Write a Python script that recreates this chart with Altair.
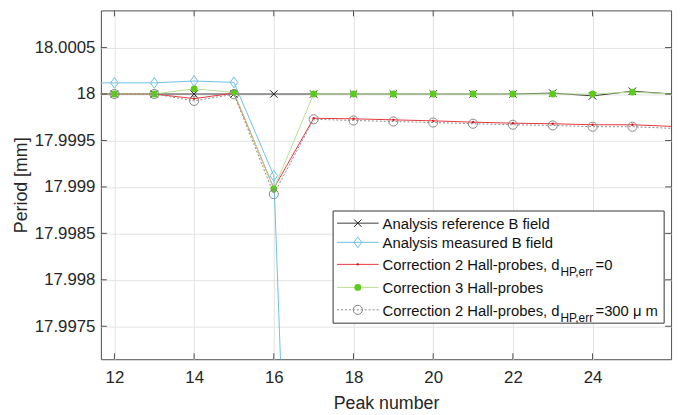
import altair as alt
import pandas as pd

# ---------------- data ----------------
peaks = list(range(11, 27))
ref_field = [18.0, 18.0, 18.0, 18.0, 18.0, 18.0, 18.0, 18.0, 18.0, 18.0, 18.0, 18.0,
             18.00001, 17.99998, 18.00003, 18.0]
meas_field = [18.00012, 18.00012, 18.00012, 18.00014, 18.000125, 17.99912, 17.98728,
              None, None, None, None, None, None, None, None, None]
corr2_d0 = [18.0, 18.0, 18.0, 17.99995, 18.00001, 17.998985, 17.999739, 17.999733,
            17.999722, 17.999711, 17.999697, 17.999686, 17.99968, 17.999669, 17.999669, 17.999651]
corr3 = [18.0, 18.0, 18.0, 18.000056, 18.000018, 17.998978, 18.0, 18.0, 18.0, 18.0,
         18.0, 18.0, 18.0, 18.0, 18.000021, 18.0]
corr2_d300 = [18.0, 18.0, 18.0, 17.999926, 17.999997, 17.998922, 17.999728, 17.999715,
              17.999704, 17.999693, 17.99968, 17.999669, 17.999662, 17.999648, 17.999648, 17.99963]

x_ticks = [12, 14, 16, 18, 20, 22, 24]
y_ticks = [17.9975, 17.998, 17.9985, 17.999, 17.9995, 18.0, 18.0005]

legend_main = ["Analysis reference B field", "Analysis measured B field",
               "Correction 2 Hall-probes, d", "Correction 3 Hall-probes",
               "Correction 2 Hall-probes, d"]
legend_sub = ["", "", "HP,err", "", "HP,err"]
legend_tail = ["", "", "=0", "", "=300 \u03bc m"]

# ---------------- styling ----------------
FONT = "Liberation Sans"
TXT = "#262626"
W, H = 577, 353

series = [
    dict(vals=ref_field, line="#3a3a3a", dash=None, shape="M-1,-1L1,1M-1,1L1,-1",
         filled=False, mcolor="#1a1a1a", size=56, sw=1),
    dict(vals=meas_field, line="#6cc0e6", dash=None, shape="M0,-1L0.7,0L0,1L-0.7,0Z",
         filled=False, mcolor="#6cc0e6", size=121, sw=1),
    dict(vals=corr2_d0, line="#e8353a", dash=None, shape="circle",
         filled=True, mcolor="#e0141e", size=6, sw=1),
    dict(vals=corr3, line="#b4e08e", dash=None, shape="circle",
         filled=True, mcolor="#5ccb1c", size=48, sw=1),
    dict(vals=corr2_d300, line="#8a8a8a", dash=[2, 2], shape="circle",
         filled=False, mcolor="#858585", size=85, sw=1),
]

xscale = alt.Scale(domain=[11.66, 25.97], nice=False, zero=False)
yscale = alt.Scale(domain=[17.997145, 18.0009], nice=False, zero=False)

xaxis = alt.Axis(values=x_ticks, format="d", grid=True, gridColor="#e3e3e3",
                 ticks=False, tickSize=0, domain=False, labelFont=FONT,
                 labelFontSize=17, labelColor=TXT, labelPadding=11,
                 titleFont=FONT, titleFontSize=18, titleFontWeight="normal",
                 titleColor=TXT, titleBaseline="alphabetic", titleY=50,
                 labelFlush=False)
yaxis = alt.Axis(values=y_ticks, format=".6~g", grid=True, gridColor="#e3e3e3",
                 ticks=False, tickSize=0, domain=False, labelFont=FONT,
                 labelFontSize=17, labelColor=TXT, labelPadding=6,
                 titleFont=FONT, titleFontSize=18, titleFontWeight="normal",
                 titleColor=TXT, titleBaseline="alphabetic", titleX=-75,
                 titleY=W * 0 + H / 2, titleAngle=270, labelFlush=False)

X = alt.X("peak:Q", scale=xscale, axis=xaxis, title="Peak number")
Y = alt.Y("value:Q", scale=yscale, axis=yaxis, title="Period [mm]")

layers = []
for s in series:
    df = pd.DataFrame({"peak": peaks, "value": s["vals"]}).dropna()
    lkw = dict(color=s["line"], strokeWidth=s["sw"], clip=True)
    if s["dash"]:
        lkw["strokeDash"] = s["dash"]
    layers.append(alt.Chart(df).mark_line(**lkw).encode(x=X, y=Y))
    pkw = dict(shape=s["shape"], size=s["size"], clip=True, opacity=1)
    if s["filled"]:
        pkw.update(filled=True, fill=s["mcolor"], strokeWidth=0)
    else:
        pkw.update(filled=False, stroke=s["mcolor"], strokeWidth=1)
    layers.append(
        alt.Chart(df).mark_point(**pkw)
        .transform_filter("datum.peak >= 12 && datum.peak <= 25")
        .encode(x=X, y=Y)
    )

# inward ticks on all four sides
xt = pd.DataFrame({"peak": x_ticks})
yt = pd.DataFrame({"value": y_ticks})
TC = "#4d4d4d"
layers.append(alt.Chart(xt).mark_rule(color=TC).encode(x=X, y=alt.value(H), y2=alt.value(H - 6)))
layers.append(alt.Chart(xt).mark_rule(color=TC).encode(x=X, y=alt.value(0), y2=alt.value(6)))
layers.append(alt.Chart(yt).mark_rule(color=TC).encode(y=Y, x=alt.value(0), x2=alt.value(6)))
layers.append(alt.Chart(yt).mark_rule(color=TC).encode(y=Y, x=alt.value(W), x2=alt.value(W - 6)))

# legend
one = pd.DataFrame({"k": [0]})
layers.append(alt.Chart(one).mark_rect(fill="white", stroke="#333333", strokeWidth=1).encode(
    x=alt.value(235), x2=alt.value(570), y=alt.value(203), y2=alt.value(316.5)))
row_line = [215.3, 234.7, 257, 280.3, 303]
row_base = [221.3, 240.7, 263, 286.3, 309]
for i, s in enumerate(series):
    rkw = dict(color=s["line"], strokeWidth=1)
    if s["dash"]:
        rkw["strokeDash"] = s["dash"]
    layers.append(alt.Chart(one).mark_rule(**rkw).encode(
        x=alt.value(239), x2=alt.value(281), y=alt.value(row_line[i])))
    pkw = dict(shape=s["shape"], size=s["size"], opacity=1)
    if s["filled"]:
        pkw.update(filled=True, fill=s["mcolor"], strokeWidth=0)
    else:
        pkw.update(filled=False, stroke=s["mcolor"], strokeWidth=1)
    layers.append(alt.Chart(one).mark_point(**pkw).encode(
        x=alt.value(260), y=alt.value(row_line[i])))
    layers.append(alt.Chart(one).mark_text(
        text=legend_main[i], align="left", baseline="alphabetic", font=FONT,
        fontSize=15, color="#111111").encode(x=alt.value(285), y=alt.value(row_base[i])))
    if legend_sub[i]:
        layers.append(alt.Chart(one).mark_text(
            text=legend_sub[i], align="left", baseline="alphabetic", font=FONT,
            fontSize=12, color="#111111").encode(x=alt.value(465), y=alt.value(row_base[i] + 6)))
        layers.append(alt.Chart(one).mark_text(
            text=legend_tail[i], align="left", baseline="alphabetic", font=FONT,
            fontSize=15, color="#111111").encode(x=alt.value(500.5), y=alt.value(row_base[i])))

chart = alt.layer(*layers).properties(
    width=W, height=H,
    autosize=alt.AutoSizeParams(type="none"),
    padding={"left": 94, "top": 0, "right": 6, "bottom": 54},
    background="white",
).configure_view(stroke="#4d4d4d", strokeWidth=1)

chart.save("out.html", embed_options={"renderer": "svg", "actions": False})
